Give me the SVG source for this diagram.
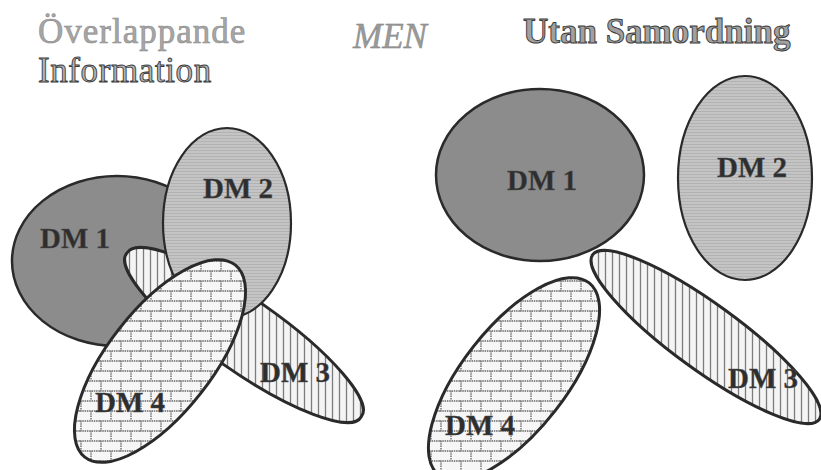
<svg xmlns="http://www.w3.org/2000/svg" width="821" height="470" viewBox="0 0 821 470">
<style>
.title{font-family:"Liberation Serif","Times New Roman",serif;font-size:35px}
.lbl{font-family:"Liberation Serif","Times New Roman",serif;font-size:29px;font-weight:bold;fill:#2e2e2e;stroke:#555;stroke-width:0.4}
.dm1{fill:#8c8c8c;stroke:#2a2a2a;stroke-width:2.5}
.dm2{fill:url(#hlines);stroke:#2a2a2a;stroke-width:2.2}
.dm3{fill:url(#vstripes);stroke:#2a2a2a;stroke-width:3}
.dm4{fill:url(#brick);stroke:#2a2a2a;stroke-width:3}
</style>
<defs>
<pattern id="hlines" width="6" height="3" patternUnits="userSpaceOnUse">
<rect width="6" height="3" fill="#c4c4c4"/>
<line x1="0" y1="0.5" x2="6" y2="0.5" stroke="#b2b2b2" stroke-width="1"/>
</pattern>
<pattern id="vstripes" width="7" height="10" patternUnits="userSpaceOnUse">
<rect width="7" height="10" fill="#f4f4f4"/>
<line x1="3.5" y1="0" x2="3.5" y2="10" stroke="#7c7c7c" stroke-width="1.3"/>
</pattern>
<pattern id="brick" width="20" height="20" patternUnits="userSpaceOnUse">
<rect width="20" height="20" fill="#f6f6f6"/>
<g stroke="#8a8a8a" stroke-width="1.8" stroke-dasharray="1.5 0.8">
<line x1="0" y1="1" x2="20" y2="1"/>
<line x1="0" y1="11" x2="20" y2="11"/>
<line x1="1" y1="1" x2="1" y2="11"/>
<line x1="11" y1="11" x2="11" y2="21"/>
</g>
</pattern>
</defs>

<g id="titles">
<text class="title" x="38" y="43" letter-spacing="1" fill="#a6a6a6" stroke="#8c8c8c" stroke-width="0.6">Överlappande</text>
<text class="title" x="38" y="82" letter-spacing="0.6" fill="#b4b4b4" stroke="#3c3c3c" stroke-width="0.9">Information</text>
<text class="title" x="353" y="48" font-size="33" font-style="italic" fill="#9a9a9a" stroke="#7a7a7a" stroke-width="0.4">MEN</text>
<text class="title" x="523" y="43" font-size="33" font-weight="bold" fill="#a0a0a0" stroke="#3a3a3a" stroke-width="0.9">Utan Samordning</text>
</g>

<g id="overlapping">
<g id="L-DM1">
<ellipse class="dm1" cx="117" cy="261" rx="105" ry="85"/>
<text class="lbl" x="40" y="248" fill="#1e1e1e">DM 1</text>
</g>
<g id="L-DM3">
<path class="dm3" d="M126.9 253 A143 35 35 1 0 361.1 417 A143 35 35 1 0 126.9 253 Z"/>
<text class="lbl" x="260" y="382">DM 3</text>
</g>
<g id="L-DM2">
<ellipse class="dm2" cx="227" cy="223" rx="64" ry="95"/>
<text class="lbl" x="203" y="198">DM 2</text>
</g>
<g id="L-DM4">
<path class="dm4" d="M84.8 457.1 A122 52 -52 1 0 235.2 264.9 A122 52 -52 1 0 84.8 457.1 Z"/>
<text class="lbl" x="95" y="412">DM 4</text>
</g>
</g>

<g id="separate">
<g id="R-DM1">
<ellipse class="dm1" cx="540" cy="175" rx="104" ry="86"/>
<text class="lbl" x="507" y="190" fill="#1e1e1e">DM 1</text>
</g>
<g id="R-DM2">
<ellipse class="dm2" cx="745" cy="178" rx="67" ry="102"/>
<text class="lbl" x="717" y="177">DM 2</text>
</g>
<g id="R-DM3">
<path class="dm3" d="M592.7 254.7 A140 33 36 1 0 819.3 419.3 A140 33 36 1 0 592.7 254.7 Z"/>
<text class="lbl" x="728" y="388">DM 3</text>
</g>
<g id="R-DM4">
<path class="dm4" d="M438.8 475.1 A122 52 -52 1 0 589.2 282.9 A122 52 -52 1 0 438.8 475.1 Z"/>
<text class="lbl" x="445" y="435" fill="#1e1e1e">DM 4</text>
</g>
</g>

<g id="connectors"/>
</svg>
